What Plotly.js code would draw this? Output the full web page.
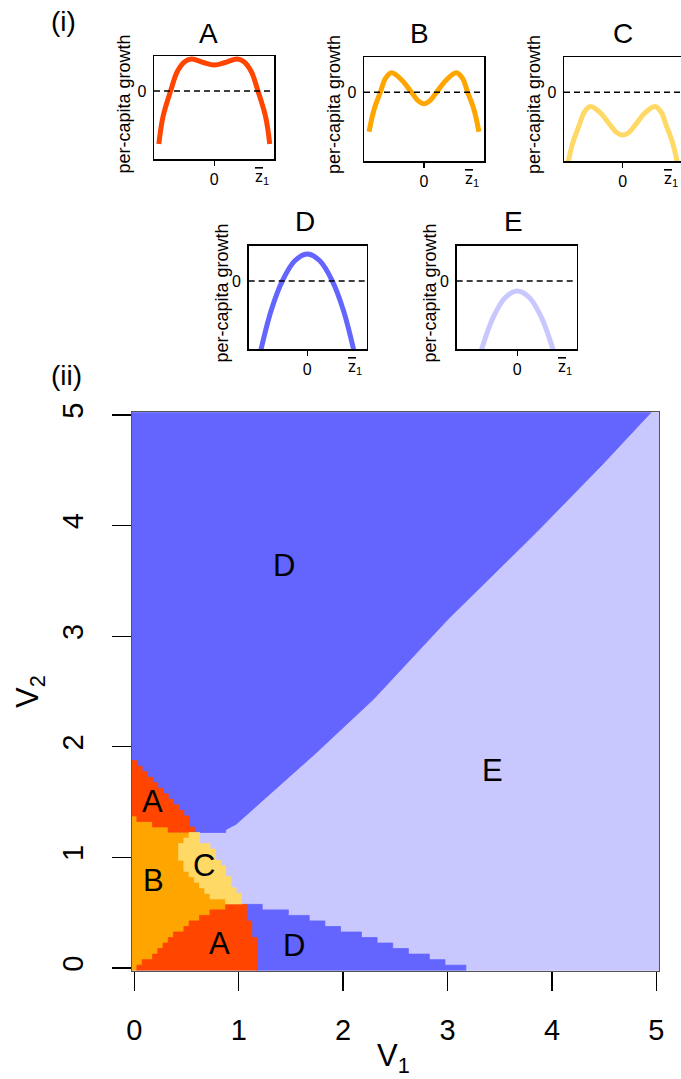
<!DOCTYPE html>
<html>
<head>
<meta charset="utf-8">
<script src="https://cdn.plot.ly/plotly-3.0.1.min.js"></script>
<style>html,body{margin:0;padding:0;background:#fff;}</style>
</head>
<body>
<div id="chart" style="width:681px;height:1079px;"></div>
<script>
// ---------------- DATA ----------------
// colours of the five regimes
const regimeNames = ['A', 'B', 'C', 'D', 'E'];
const regimeColors = ['#FF4500', '#FFA500', '#FFD966', '#6464FF', '#C8C8FF'];

// panel (i): per-capita growth curves (z in units of z-bar_1, growth in arbitrary units)
const curveA_z = [-1.155, -1.07, -0.91, -0.77, -0.61, -0.47, -0.23, 0, 0.23, 0.47, 0.61, 0.77, 0.91, 1.07, 1.155];
const curveA_g = [-5.3, -2.6, 0, 1.95, 2.95, 3.2, 2.85, 2.6, 2.85, 3.2, 2.95, 1.95, 0, -2.6, -5.3];
const curveB_z = [-1.145, -1.04, -0.91, -0.8, -0.675, -0.47, -0.26, -0.12, 0, 0.12, 0.26, 0.47, 0.675, 0.8, 0.91, 1.04, 1.145];
const curveB_g = [-3.9, -1.7, 0, 1.4, 1.94, 1.25, 0, -0.85, -1.13, -0.85, 0, 1.25, 1.94, 1.4, 0, -1.7, -3.9];
const curveC_z = [-1.135, -1.04, -0.91, -0.8, -0.675, -0.47, -0.26, -0.12, 0, 0.12, 0.26, 0.47, 0.675, 0.8, 0.91, 1.04, 1.135];
const curveC_g = [-6.9, -5.0, -3.3, -1.95, -1.4, -2.0, -3.25, -4.0, -4.23, -4.0, -3.25, -2.0, -1.4, -1.95, -3.3, -5.0, -6.9];
const curveD_z = [-0.965, -0.75, -0.52, -0.26, 0, 0.26, 0.52, 0.75, 0.965];
const curveD_g = [-6.83, -2.9, 0, 2.0, 2.67, 2.0, 0, -2.9, -6.83];
const curveE_z = [-0.75, -0.5, -0.25, 0, 0.25, 0.5, 0.75];
const curveE_g = [-6.9, -3.6, -1.65, -1.0, -1.65, -3.6, -6.9];
const smallTickVals = [0, 1];
const smallTickText = ['0', '<span style="text-decoration:overline">z</span><sub>1</sub>'];
const smallYTickText = ['0'];

// panel (ii): regime map on a 0.05 grid of (V1, V2); cells run from -0.025 to 5.025
const gridMin = -0.025, gridMax = 5.025, cellStep = 0.05;
const mainTickVals = [0, 1, 2, 3, 4, 5];
const mainTickText = ['0', '1', '2', '3', '4', '5'];

// region A (bottom): row centres in V2, left / right cell edges in V1
const aLowV2    = [0, 0.05, 0.1, 0.15, 0.2, 0.25, 0.3, 0.35, 0.4, 0.45, 0.5, 0.55];
const aLowLeft  = [0.025, 0.075, 0.175, 0.225, 0.275, 0.325, 0.375, 0.475, 0.525, 0.625, 0.725, 0.875];
const aLowRight = [1.175, 1.175, 1.175, 1.175, 1.175, 1.175, 1.125, 1.125, 1.125, 1.075, 1.075, 1.075];
// region D (bottom band)
const dLowV2    = [0, 0.05, 0.1, 0.15, 0.2, 0.25, 0.3, 0.35, 0.4, 0.45, 0.5, 0.55];
const dLowRight = [3.175, 2.975, 2.825, 2.625, 2.475, 2.325, 2.175, 1.975, 1.825, 1.675, 1.475, 1.225];
// region C
const cV2    = [0.6, 0.65, 0.7, 0.75, 0.8, 0.85, 0.9, 0.95, 1.0, 1.05, 1.1, 1.15, 1.2];
const cLeft  = [0.875, 0.725, 0.675, 0.625, 0.575, 0.525, 0.475, 0.475, 0.425, 0.425, 0.425, 0.475, 0.525];
const cRight = [1.025, 1.025, 0.975, 0.925, 0.925, 0.875, 0.875, 0.825, 0.775, 0.775, 0.725, 0.625, 0.625];
// region A (top)
const aTopV2    = [1.25, 1.3, 1.35, 1.4, 1.45, 1.5, 1.55, 1.6, 1.65, 1.7, 1.75, 1.8, 1.85];
const aTopLeft  = [0.325, 0.175, 0.025, -0.025, -0.025, -0.025, -0.025, -0.025, -0.025, -0.025, -0.025, -0.025, -0.025];
const aTopRight = [0.575, 0.525, 0.525, 0.475, 0.425, 0.375, 0.325, 0.275, 0.225, 0.175, 0.125, 0.075, 0.025];
// region D (upper) / E boundary, read along the staircase
const dUpBoundV1 = [4.95, 4.47, 3.85, 3.0, 2.29, 1.735, 1.33, 1.1, 0.975, 0.875, 0.875];
const dUpBoundV2 = [5.025, 4.54, 3.94, 3.15, 2.43, 1.94, 1.6, 1.41, 1.3, 1.25, 1.225];

// region labels on the map
const labelText = ['D', 'E', 'A', 'B', 'C', 'A', 'D'];
const labelV1   = [1.43, 3.43, 0.17, 0.185, 0.67, 0.82, 1.53];
const labelV2   = [3.64, 1.79, 1.505, 0.795, 0.93, 0.22, 0.205];

// ---------------- BUILD ----------------
const half = cellStep / 2;
function stair(yc, L, R) {
  const xs = [], ys = [];
  for (let i = 0; i < yc.length; i++) { xs.push(R[i], R[i]); ys.push(yc[i] - half, yc[i] + half); }
  for (let i = yc.length - 1; i >= 0; i--) { xs.push(L[i], L[i]); ys.push(yc[i] + half, yc[i] - half); }
  return { xs, ys };
}
function poly(p, color) {
  return { type: 'scatter', mode: 'lines', x: p.xs, y: p.ys, fill: 'toself', fillcolor: color,
           line: { color: color, width: 0.8 }, hoverinfo: 'skip', xaxis: 'x', yaxis: 'y' };
}
const colOf = n => regimeColors[regimeNames.indexOf(n)];

const traces = [];
// E background
traces.push(poly({ xs: [gridMin, gridMax, gridMax, gridMin], ys: [gridMin, gridMin, gridMax, gridMax] }, colOf('E')));
// D upper
traces.push(poly({ xs: [gridMin].concat(dUpBoundV1, [gridMin]),
                   ys: [gridMax].concat(dUpBoundV2, [dUpBoundV2[dUpBoundV2.length - 1]]) }, colOf('D')));
// D lower
traces.push(poly(stair(dLowV2, aLowRight, dLowRight), colOf('D')));
// B
const bV2 = aLowV2.concat(cV2, [1.25, 1.3, 1.35]);
const bRight = aLowLeft.concat(cLeft, aTopLeft.slice(0, 3));
traces.push(poly(stair(bV2, bV2.map(() => gridMin), bRight), colOf('B')));
// A top, A bottom, C
traces.push(poly(stair(aTopV2, aTopLeft, aTopRight), colOf('A')));
traces.push(poly(stair(aLowV2, aLowLeft, aLowRight), colOf('A')));
traces.push(poly(stair(cV2, cLeft, cRight), colOf('C')));

// small panel curves
const curves = [[curveA_z, curveA_g], [curveB_z, curveB_g], [curveC_z, curveC_g], [curveD_z, curveD_g], [curveE_z, curveE_g]];
curves.forEach((c, i) => {
  traces.push({ type: 'scatter', mode: 'lines', x: c[0], y: c[1], line: { color: regimeColors[i], width: 5, shape: 'spline', smoothing: 1 },
                hoverinfo: 'skip', xaxis: 'x' + (i + 2), yaxis: 'y' + (i + 2) });
});

// ---------------- LAYOUT ----------------
const W = 681, H = 1079;
const px = v => v / W, py = v => 1 - v / H;
const font = 'Liberation Sans, Arial, Helvetica, sans-serif';

const layout = {
  width: W, height: H, margin: { l: 0, r: 0, t: 0, b: 0 }, showlegend: false,
  paper_bgcolor: '#ffffff', plot_bgcolor: '#ffffff',
  font: { family: font, color: '#000' },
  xaxis: { domain: [px(131.7), px(659)], range: [gridMin, gridMax], tickvals: mainTickVals, ticktext: mainTickText,
           ticks: 'outside', ticklen: 19, tickwidth: 1.3, tickcolor: '#000', showline: true, mirror: true,
           linecolor: '#555', linewidth: 1, showgrid: false, zeroline: false, tickfont: { size: 29 },
           ticklabelstandoff: 14, anchor: 'y' },
  yaxis: { domain: [py(970.7), py(412.3)], range: [gridMin, gridMax], tickvals: mainTickVals, ticktext: mainTickText,
           ticks: 'outside', ticklen: 19, tickwidth: 1.3, tickcolor: '#000', showline: true, mirror: true,
           linecolor: '#555', linewidth: 1, showgrid: false, zeroline: false, tickfont: { size: 29 },
           tickangle: -90, ticklabelstandoff: 17, anchor: 'x' },
  shapes: [], annotations: []
};

// small panels geometry (pixels)
const boxes = [
  { x0: 154, x1: 274, y0: 56, y1: 159, xr: [-1.256, 1.244], mirror: true, title: [208, 33], ylab: 123 },
  { x0: 364, x1: 484, y0: 57, y1: 161, xr: [-1.25, 1.25], mirror: true, title: [419, 33], ylab: 334 },
  { x0: 564, x1: 681, y0: 57, y1: 161, xr: [-1.223, 1.215], mirror: false, title: [623, 33], ylab: 534 },
  { x0: 248.7, x1: 366.7, y0: 245.7, y1: 349.3, xr: [-1.221, 1.2375], mirror: true, title: [305, 221], ylab: 221 },
  { x0: 456.7, x1: 576.7, y0: 245.7, y1: 349.3, xr: [-1.2625, 1.2375], mirror: true, title: [513, 221], ylab: 429 }
];
const center = { xanchor: 'center', yanchor: 'middle', showarrow: false, xref: 'paper', yref: 'paper' };
boxes.forEach((b, i) => {
  const n = i + 2;
  layout['xaxis' + n] = { domain: [px(b.x0), Math.min(1, px(b.x1))], range: b.xr, anchor: 'y' + n,
    tickvals: [smallTickVals[0]], ticktext: [smallTickText[0]], ticks: 'outside', ticklen: 5, tickwidth: 1.5, tickcolor: '#000',
    showline: true, mirror: true, linecolor: '#000', linewidth: 1.5, showgrid: false, zeroline: false,
    tickfont: { size: 16 }, ticklabelstandoff: 0 };
  layout['yaxis' + n] = { domain: [py(b.y1), py(b.y0)], range: [-6.8, 3.5], anchor: 'x' + n,
    tickvals: [0], ticktext: smallYTickText, ticks: '', showline: true, mirror: b.mirror, linecolor: '#000', linewidth: 1.5,
    showgrid: false, zeroline: false, tickfont: { size: 16 }, ticklabelstandoff: 3 };
  layout.shapes.push({ type: 'line', xref: 'x' + n + ' domain', x0: 0, x1: 1, yref: 'y' + n, y0: 0, y1: 0,
    line: { color: '#000', width: 1.5, dash: '6px,4px' } });
  layout.annotations.push({ xref: 'x' + n, yref: 'y' + n + ' domain', x: smallTickVals[1], y: -0.18, text: smallTickText[1],
    showarrow: false, font: { size: 16 }, xanchor: 'center', yanchor: 'middle' });
  layout.annotations.push(Object.assign({}, center, { x: px(b.title[0]), y: py(b.title[1]), text: regimeNames[i], font: { size: 28 } }));
  layout.annotations.push(Object.assign({}, center, { x: px(b.ylab), y: py((b.y0 + b.y1) / 2 - 4), text: 'per-capita growth',
    textangle: -90, font: { size: 18 } }));
});

// region labels
labelText.forEach((t, i) => layout.annotations.push({ xref: 'x', yref: 'y', x: labelV1[i], y: labelV2[i], text: t,
  showarrow: false, font: { size: 31 }, xanchor: 'center', yanchor: 'middle' }));
// panel tags and axis titles
layout.annotations.push(Object.assign({}, center, { x: px(63), y: py(22), text: '(i)', font: { size: 28 } }));
layout.annotations.push(Object.assign({}, center, { x: px(66), y: py(375), text: '(ii)', font: { size: 28 } }));
layout.annotations.push(Object.assign({}, center, { x: px(393), y: py(1058), text: 'V<sub>1</sub>', font: { size: 31 } }));
layout.annotations.push(Object.assign({}, center, { x: px(30), y: py(692), text: 'V<sub>2</sub>', textangle: -90, font: { size: 31 } }));

Plotly.newPlot('chart', traces, layout, { staticPlot: true, displayModeBar: false });
</script>
</body>
</html>
